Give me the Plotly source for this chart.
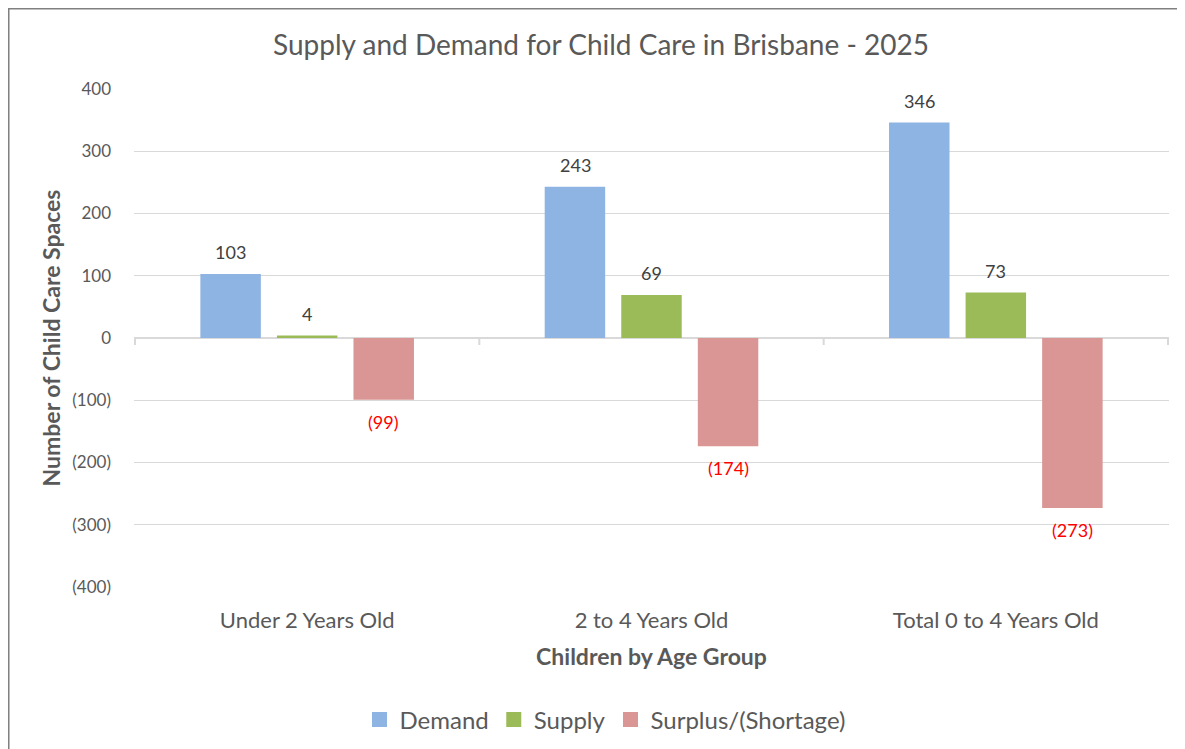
import plotly.graph_objects as go

categories = ["Under 2 Years Old", "2 to 4 Years Old", "Total 0 to 4 Years Old"]
demand = [103, 243, 346]
supply = [4, 69, 73]
surplus = [-99, -174, -273]
tick_vals = [-400, -300, -200, -100, 0, 100, 200, 300, 400]
tick_text = ["(400)", "(300)", "(200)", "(100)", "0", "100", "200", "300", "400"]

FONT = "Lato, 'Open Sans', sans-serif"
TXT = "#595959"

def fmt(v):
    return f"({abs(v)})" if v < 0 else f"{v}"

W, H = 1177, 741
L, T, PW, PH = 126, 81, 1035, 498

fig = go.Figure()
series = [("Demand", demand, "#8eb4e3"), ("Supply", supply, "#9bbb59"), ("Surplus/(Shortage)", surplus, "#d99694")]
for name, vals, col in series:
    fig.add_trace(go.Bar(x=categories, y=vals, name=name, marker=dict(color=col, line=dict(width=0)),
                         hoverinfo="x+y", showlegend=False))
# legend entries with square swatches
for name, vals, col in series:
    fig.add_trace(go.Scatter(x=[None], y=[None], mode="markers", name=name,
                             marker=dict(symbol="square", size=15, color=col), showlegend=True))

slot = 76.5
for i, (name, vals, col) in enumerate(series):
    for c, v in zip(categories, vals):
        neg = v < 0
        fig.add_annotation(x=c, y=v, xref="x", yref="y", text=fmt(v), showarrow=False,
                           xshift=(i - 1) * slot, yshift=-22 if neg else 22, yanchor="middle",
                           font=dict(family=FONT, size=18, color="#ff0000" if neg else "#404040"))

fig.update_layout(
    width=W, height=H,
    margin=dict(l=L, r=W - L - PW, t=T, b=H - T - PH, autoexpand=False),
    paper_bgcolor="white", plot_bgcolor="white",
    barmode="group", bargap=0.333, bargroupgap=0.21,
    font=dict(family=FONT, color=TXT),
    title=dict(text="Supply and Demand for Child Care in Brisbane - 2025", x=(601 - 8) / W, xanchor="center",
               y=1 - 37 / H, yanchor="middle", font=dict(family=FONT, size=28, color=TXT)),
    legend=dict(orientation="h", x=(605 - 8 - L) / PW, xanchor="center", y=-(720 - 8 - T - PH) / PH,
                yanchor="middle", font=dict(family=FONT, size=24, color=TXT), itemwidth=30,
                traceorder="normal", tracegroupgap=0),
    showlegend=True,
)
fig.update_yaxes(range=[-400, 400], tickvals=tick_vals, ticktext=tick_text, showgrid=True,
                 gridcolor="#d9d9d9", gridwidth=1, zeroline=True, zerolinecolor="#d9d9d9", zerolinewidth=2,
                 showline=False, ticklabelstandoff=22, tickfont=dict(family=FONT, size=17, color=TXT),
                 title=dict(text="<b>Number of Child Care Spaces</b>", font=dict(family=FONT, size=23, color=TXT),
                            standoff=5))
fig.update_xaxes(showgrid=False, showline=False, ticks="", ticklabelstandoff=18,
                 tickfont=dict(family=FONT, size=22, color=TXT),
                 title=dict(text="<b>Children by Age Group</b>", font=dict(family=FONT, size=23, color=TXT),
                            standoff=16))

# category-boundary tick marks on the zero line
for b in [-0.5, 0.5, 1.5, 2.5]:
    fig.add_shape(type="line", xref="x", yref="y", x0=b, x1=b, ysizemode="pixel", yanchor=0, y0=0, y1=-7,
                  line=dict(color="#d9d9d9", width=2))

fig.add_shape(type="rect", xref="paper", yref="paper", x0=-L / PW + 0.0005, x1=1.2,
              y0=-0.6, y1=1 + T / PH - 0.001, line=dict(color="#808080", width=2), fillcolor="rgba(0,0,0,0)",
              layer="below")

fig.write_html("out.html")
